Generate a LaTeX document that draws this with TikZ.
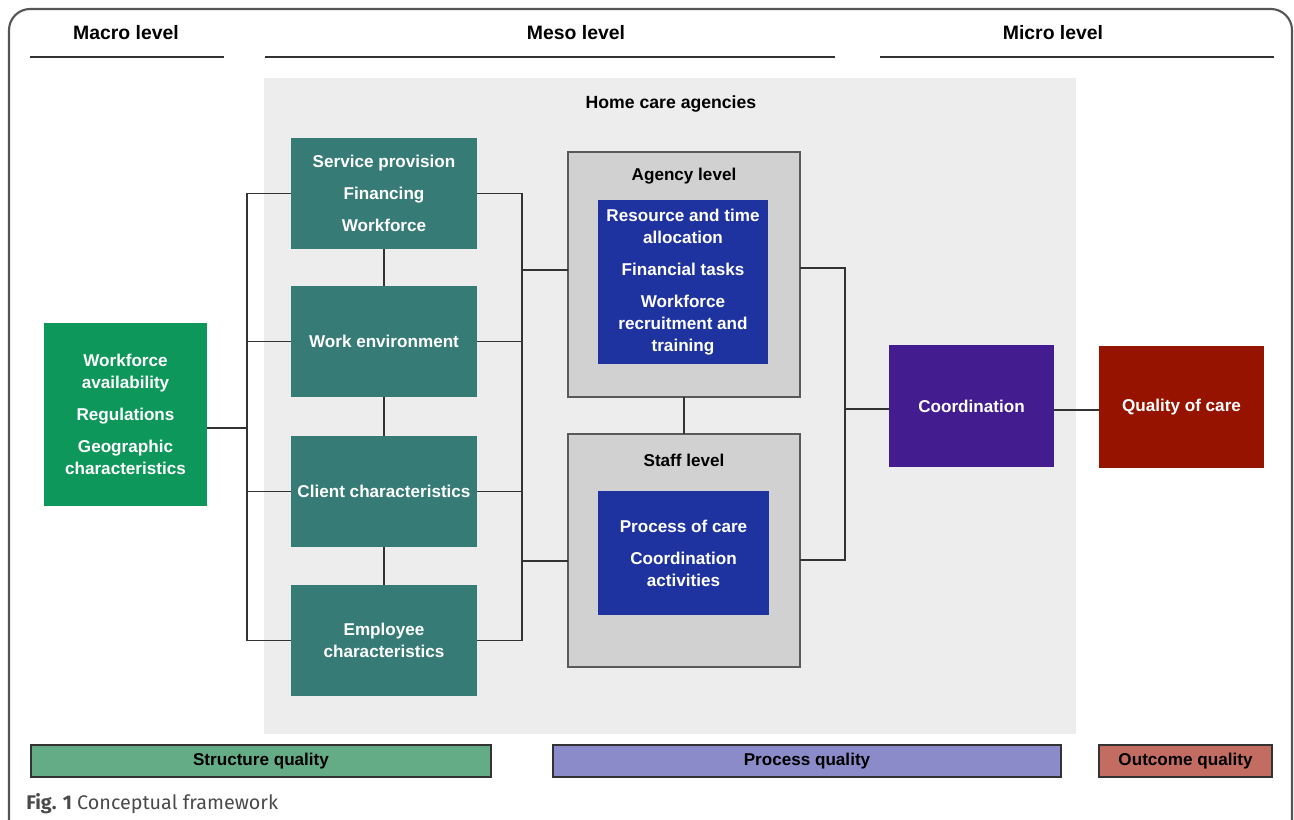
\documentclass[tikz,border=0pt]{standalone}
\usepackage{fontspec}
\setmainfont{Liberation Sans}
\newfontfamily\capfont{Fira Sans}
\definecolor{framec}{HTML}{555555}
\definecolor{wirec}{HTML}{333333}
\definecolor{bgc}{HTML}{EDEDED}
\definecolor{levc}{HTML}{D1D1D1}
\definecolor{tealc}{HTML}{367B75}
\definecolor{macroc}{HTML}{0E975A}
\definecolor{bluec}{HTML}{1F33A0}
\definecolor{purpc}{HTML}{431C8F}
\definecolor{redc}{HTML}{961300}
\definecolor{lgreen}{HTML}{64AC85}
\definecolor{lpurp}{HTML}{8B8BCA}
\definecolor{lred}{HTML}{C36C61}
\definecolor{capc}{HTML}{4A4A4A}
\newcommand{\lblfont}{\fontsize{9.7}{12.5}\selectfont\bfseries}
\newcommand{\hdrfont}{\fontsize{11}{13}\selectfont\bfseries}
\begin{document}
\begin{tikzpicture}[x=0.567pt,y=-0.567pt,
  wire/.style={draw=wirec, line width=1.1pt},
  hdr/.style={font=\lblfont, text=black},
  lvlhdr/.style={font=\hdrfont, text=black},
  sz/.style 2 args={minimum width={#1*0.567pt}, minimum height={#2*0.567pt}},
  boxbase/.style={inner sep=0pt, outer sep=0pt, text=white, font=\lblfont, align=center},
  tealbox/.style={boxbase, fill=tealc},
  macrobox/.style={boxbase, fill=macroc},
  bluebox/.style={boxbase, fill=bluec},
  levbox/.style={inner sep=0pt, outer sep=0pt, fill=levc, draw=gray!70!black, line width=1pt},
  legbar/.style={inner sep=0pt, outer sep=0pt, draw=wirec, line width=1pt, font=\lblfont, text=black}]
\useasboundingbox (0,0) rectangle (1294,820);
\begin{scope}
\clip (0,0) rectangle (1294,820);
\draw[framec, line width=1.2pt, rounded corners=12pt] (9,9) rectangle (1292,860);
\end{scope}

% headers
\node[lvlhdr] (hmacro) at (126,33) {Macro level};
\node[lvlhdr] (hmeso) at (576,33) {Meso level};
\node[lvlhdr] (hmicro) at (1053,33) {Micro level};
\draw[wirec, line width=1.1pt] (30,57) -- (224,57);
\draw[wirec, line width=1.1pt] (265,57) -- (835,57);
\draw[wirec, line width=1.1pt] (880,57) -- (1274,57);

% home care background
\fill[bgc] (264,78) rectangle (1076,734);
\node[hdr, font=\fontsize{10}{12}\selectfont\bfseries] (hca) at (671,104) {Home care agencies};

% macro box
\node[macrobox, sz={163}{183}] (macro) at (125.5,414.5) {Workforce\\availability\\[5.7pt]Regulations\\[5.7pt]Geographic\\characteristics};

% teal boxes
\node[tealbox, sz={186}{111}] (b1) at (384,193.5) {Service provision\\[5.7pt]Financing\\[5.7pt]Workforce};
\node[tealbox, sz={186}{111}] (b2) at (384,341.5) {Work environment};
\node[tealbox, sz={186}{111}] (b3) at (384,491.5) {Client characteristics};
\node[tealbox, sz={186}{111}] (b4) at (384,640.5) {Employee\\characteristics};

% level boxes
\node[levbox, sz={232}{245}] (ag) at (684,274.5) {};
\node[hdr] (agl) at (684,176) {Agency level};
\node[bluebox, sz={170}{164}] (agin) at (683,282) {Resource and time\\allocation\\[5.7pt]Financial tasks\\[5.7pt]Workforce\\recruitment and\\training};
\node[levbox, sz={232}{233}] (st) at (684,550.5) {};
\node[hdr] (stl) at (684,460) {Staff level};
\node[bluebox, sz={171}{124}] (stin) at (683.5,553) {Process of care\\[5.7pt]Coordination\\activities};

% micro boxes
\node[boxbase, fill=purpc, sz={165}{122}] (co) at (971.5,406) {Coordination};
\node[boxbase, fill=redc, sz={165}{122}] (qc) at (1181.5,407) {Quality of care};

% connectors: left bracket
\coordinate (lx) at (247,428);
\draw[wire] (b1.west) -- (b1.west -| lx) -- (b4.west -| lx) -- (b4.west);
\draw[wire] (b2.west) -- (b2.west -| lx);
\draw[wire] (b3.west) -- (b3.west -| lx);
\draw[wire] (lx -| macro.east) -- (lx);

% vertical teal links
\draw[wire] (b1.south) -- (b2.north);
\draw[wire] (b2.south) -- (b3.north);
\draw[wire] (b3.south) -- (b4.north);

% right bracket of teal boxes
\coordinate (ra) at (522,270);
\coordinate (rs) at (522,561);
\draw[wire] (b1.east) -- (b1.east -| ra) -- (b4.east -| ra) -- (b4.east);
\draw[wire] (b2.east) -- (b2.east -| ra);
\draw[wire] (b3.east) -- (b3.east -| ra);
\draw[wire] (ra) -- (ra -| ag.west);
\draw[wire] (rs) -- (rs -| st.west);

% agency-staff
\draw[wire] (ag.south) -- (st.north);

% bracket to coordination
\coordinate (ca) at (845,268);
\coordinate (cs) at (845,560);
\coordinate (cc) at (845,409);
\draw[wire] (ca -| ag.east) -- (ca) -- (cs) -- (cs -| st.east);
\draw[wire] (cc) -- (cc -| co.west);
\coordinate (cq) at (1054,410);
\draw[wire] (cq) -- (cq -| qc.west);

% legend bars
\node[legbar, fill=lgreen, sz={460}{32}] (lg1) at (261,761) {Structure quality};
\node[legbar, fill=lpurp, sz={508}{32}] (lg2) at (807,761) {Process quality};
\node[legbar, fill=lred, sz={173}{32}] (lg3) at (1185.5,761) {Outcome quality};

% caption
\node[anchor=west, inner sep=0pt, text=capc, font=\capfont\fontsize{11.2}{13}\selectfont] (cap) at (26,804) {\textbf{Fig. 1} Conceptual framework};
\end{tikzpicture}
\end{document}
